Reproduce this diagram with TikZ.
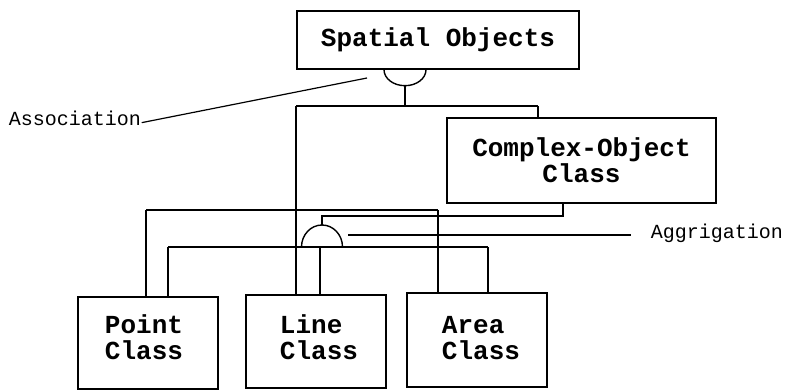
\documentclass[tikz,border=0pt]{standalone}
\usepackage{fontspec}
\setmonofont{Liberation Mono}
\begin{document}
\begin{tikzpicture}[x=1bp,y=1bp,line width=1.4bp,
  box/.style={draw,line width=1.4bp,inner sep=0pt},
  boxtext/.style={inner sep=0pt,align=left,font=\fontsize{26bp}{26bp}\selectfont\ttfamily\bfseries},
  centertext/.style={boxtext,align=center},
  note/.style={inner sep=0pt,font=\fontsize{20bp}{20bp}\selectfont\ttfamily}]
\useasboundingbox (0,0) rectangle (785,390);

% classes
\node[box,centertext,minimum width=282bp,minimum height=58bp] (spatial) at (438,350) {Spatial Objects};
\node[box,centertext,minimum width=269bp,minimum height=85bp] (complex) at (581.5,229.5) {Complex-Object\\Class};
\node[box,minimum width=140bp,minimum height=92bp] (point) at (148,47) {};
\node[box,minimum width=140bp,minimum height=93bp] (line) at (316,48.5) {};
\node[box,minimum width=140bp,minimum height=94bp] (area) at (477,50) {};
\node[boxtext] (pointT) at (144,52.5) {Point\\Class};
\node[boxtext] (lineT) at (319,52.5) {Line\\Class};
\node[boxtext] (areaT) at (481,52) {Area\\Class};

% annotations
\node[note] (assoc) at (75,271.5) {Association};
\node[note] (aggr) at (717,156.5) {Aggrigation};

% association symbol and generalisation tree
\coordinate (aTop) at (405,305);
\coordinate (busL) at (296,284);
\coordinate (busR) at (538,284);
\draw (spatial.south -| 384,0) arc[start angle=180,end angle=360,x radius=21,y radius=16];
\draw (aTop) -- (aTop |- busL);
\draw (busL) -- (busR);
\draw (busL) -- (busL |- line.north);
\draw (busR) -- (busR |- complex.north);
\draw[line width=1.2bp] ([yshift=3bp]assoc.base east) -- (367,312);

% aggregation symbol
\coordinate (gTop) at (322,165);
\draw (complex.south -| 563,0) -- (563,174) -| (gTop);
\draw (301.5,143) arc[start angle=180,end angle=0,x radius=20.5,y radius=22];
\draw (348,155) -- ([xshift=-19bp]aggr.west |- 0,155);

% upper bus to Point and Area
\coordinate (ubL) at (146,180);
\coordinate (ubR) at (438,180);
\draw (ubL) -- (ubR);
\draw (ubL) -- (ubL |- point.north);
\draw (ubR) -- (ubR |- area.north);

% lower bus from the aggregation
\coordinate (lbL) at (168,143);
\coordinate (lbM) at (320,143);
\coordinate (lbR) at (488,143);
\draw (lbL) -- (lbR);
\draw (lbL) -- (lbL |- point.north);
\draw (lbM) -- (lbM |- line.north);
\draw (lbR) -- (lbR |- area.north);
\end{tikzpicture}
\end{document}
